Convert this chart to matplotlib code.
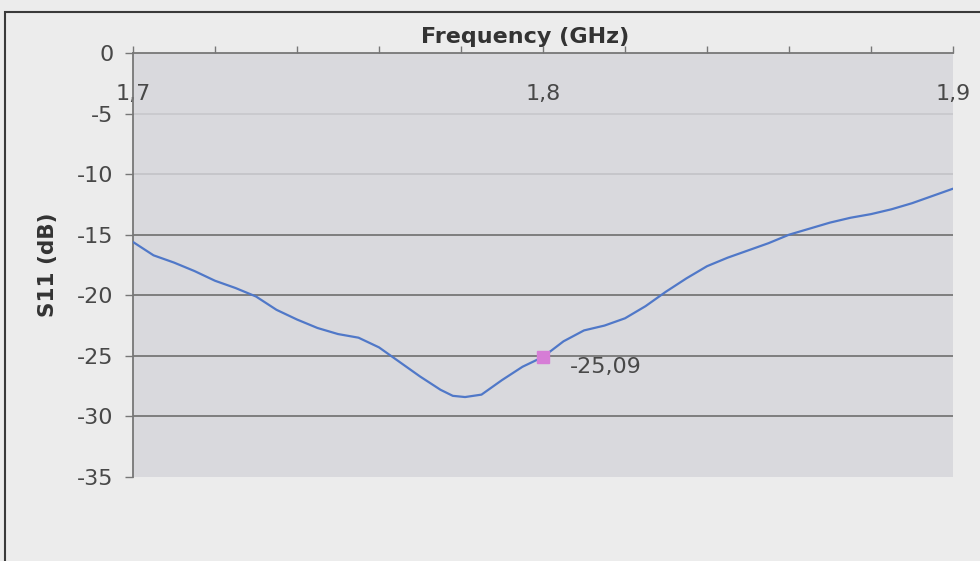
import numpy as np
import matplotlib
matplotlib.use('Agg')
import matplotlib.pyplot as plt
from matplotlib.patches import Rectangle

# ---- data --------------------------------------------------------------------
freq = [1.700, 1.705, 1.710, 1.715, 1.720, 1.725, 1.730, 1.735, 1.740, 1.745,
        1.750, 1.755, 1.760, 1.765, 1.770, 1.775, 1.778, 1.781, 1.785, 1.790,
        1.795, 1.800, 1.805, 1.810, 1.815, 1.820, 1.825, 1.830, 1.835, 1.840,
        1.845, 1.850, 1.855, 1.860, 1.865, 1.870, 1.875, 1.880, 1.885, 1.890,
        1.895, 1.900]
s11 = [-15.6, -16.7, -17.3, -18.0, -18.8, -19.4, -20.1, -21.2, -22.0, -22.7,
       -23.2, -23.5, -24.3, -25.5, -26.7, -27.8, -28.3, -28.4, -28.2, -27.0,
       -25.9, -25.09, -23.8, -22.9, -22.5, -21.9, -20.9, -19.7, -18.6, -17.6,
       -16.9, -16.3, -15.7, -15.0, -14.5, -14.0, -13.6, -13.3, -12.9, -12.4,
       -11.8, -11.2]
mark_f = 1.8
mark_v = -25.09
mark_label = '-25,09'

xticks_major = [1.7, 1.8, 1.9]
xtick_labels = ['1,7', '1,8', '1,9']
xticks_minor = np.round(np.arange(1.7, 1.9001, 0.02), 2)
yticks = [0, -5, -10, -15, -20, -25, -30, -35]
# grid lines faded in the scan near the top
grid_colors = {-5: '#c9c9cd', -10: '#c4c4c8', -15: '#777777', -20: '#777777',
               -25: '#777777', -30: '#777777'}

# ---- figure -----------------------------------------------------------------
plt.rcParams['font.family'] = 'DejaVu Sans'
fig = plt.figure(figsize=(9.8, 5.61), dpi=100, facecolor='#ececec')
ax = fig.add_axes([133 / 980, 1 - 477 / 561, 820 / 980, 424 / 561])
ax.set_facecolor('#d9d9dd')

for y, c in grid_colors.items():
    ax.axhline(y, color=c, lw=1.3, zorder=1)

ax.plot(freq, s11, color='#5078c8', lw=1.6, zorder=3,
        solid_joinstyle='round', solid_capstyle='round')
ax.plot([mark_f], [mark_v], 's', color='#d67dd6', ms=8, zorder=4)
ax.annotate(mark_label, (mark_f, mark_v), xytext=(19, -7),
            textcoords='offset points', ha='left', va='center',
            fontsize=16, color='#484848')

ax.set_xlim(1.7, 1.9)
ax.set_ylim(-35, 0)
ax.set_yticks(yticks)
ax.set_yticklabels([str(v) for v in yticks])
ax.set_xticks(xticks_major)
ax.set_xticklabels(xtick_labels)
ax.set_xticks(xticks_minor, minor=True)

ax.tick_params(axis='x', which='both', top=True, bottom=False,
               labeltop=True, labelbottom=False, direction='out',
               length=5, width=1, color='#777777')
ax.tick_params(axis='x', which='major', pad=-42, labelsize=16,
               labelcolor='#484848')
ax.tick_params(axis='y', direction='out', length=6, width=1, color='#777777',
               pad=8, labelsize=16, labelcolor='#484848')

for side in ['right', 'bottom']:
    ax.spines[side].set_visible(False)
for side in ['left', 'top']:
    ax.spines[side].set_color('#777777')
    ax.spines[side].set_linewidth(1.3)

fig.text(525 / 980, 1 - 37 / 561, 'Frequency (GHz)', ha='center', va='center',
         fontsize=16, fontweight='bold', color='#333333')
fig.text(48 / 980, 1 - 265 / 561, 'S11 (dB)', ha='center', va='center',
         rotation=90, fontsize=15.5, fontweight='bold', color='#333333')

# outer frame of the chart object (runs off the right/bottom of the scan)
fig.patches.append(Rectangle((5 / 980, -0.05), 1.1, 1 - 12 / 561 + 0.05,
                             transform=fig.transFigure, fill=False,
                             edgecolor='#3a3a3a', lw=1.5))

fig.savefig('out.png', dpi=100, facecolor=fig.get_facecolor())
